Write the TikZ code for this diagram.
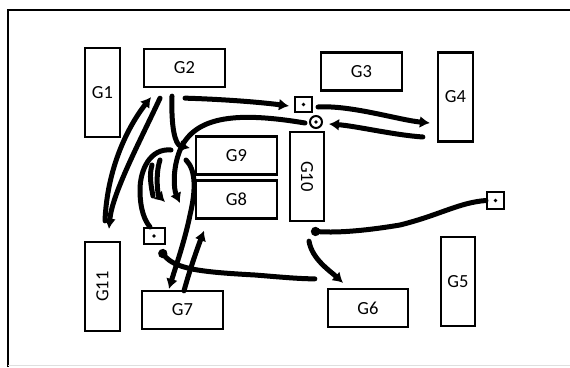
\documentclass[tikz,border=0pt]{standalone}
\usepackage{fontspec}
\setmainfont{Carlito}
\usetikzlibrary{arrows.meta}

\begin{document}
\begin{tikzpicture}[
    x=1pt, y=-1pt,
    every node/.style={font=\fontsize{18.5}{20}\selectfont},
    wide/.style={
      draw, line width=2.3pt, inner sep=0pt,
      minimum width=81pt, minimum height=38pt
    },
    tall/.style={
      draw, line width=2.3pt, inner sep=0pt,
      minimum width=35pt, minimum height=89pt
    },
    marker/.style={draw, line width=2pt, inner sep=0pt},
    stroke/.style={line width=5pt, line cap=round, line join=round},
    arrow/.style={stroke, -{Latex[length=10pt,width=12pt]}},
    blob/.style={stroke, {Circle[length=9pt]}-}
  ]
    \useasboundingbox (0,0) rectangle (570,367);

    % frame
    \draw[line width=2.6pt] (8,367) -- (8,10) -- (570,10);
    \draw[gray!25, line width=1pt] (8,365) -- (570,365);

    % boxes
    \node[tall] (g1)  at (102.5,92.5) {G1};
    \node[wide] (g2)  at (184.5,68)   {G2};
    \node[wide] (g3)  at (361.5,71.5) {G3};
    \node[tall] (g4)  at (455.5,97)   {G4};
    \node[wide] (g9)  at (236.5,155.5) {G9};
    \node[wide] (g8)  at (236.5,199.5) {G8};
    \node[tall, minimum width=34pt] (g10) at (307,176.5) {\rotatebox{-90}{G10}};
    \node[tall] (g11) at (102.5,286.5) {\rotatebox{90}{G11}};
    \node[wide] (g7)  at (182.5,310)  {G7};
    \node[wide, minimum width=80pt] (g6) at (368,308) {G6};
    \node[tall, minimum width=34pt] (g5) at (458,281.5) {G5};

    % small markers
    \node[marker, minimum width=17pt, minimum height=15pt] (sqt) at (303.5,104.5) {};
    \node[marker, circle, minimum size=12pt] (circ) at (316,122) {};
    \node[marker, minimum width=17pt, minimum height=17pt] (sqr) at (495.5,200.5) {};
    \node[marker, minimum width=21pt, minimum height=16pt] (sql) at (154,236) {};
    \foreach \m in {sqt,circ,sqr,sql}
      \fill (\m.center) circle (1.8pt);

    % free ends
    \coordinate (tipA)  at (180,203);
    \coordinate (tipB0) at (160,160);
    \coordinate (tipB)  at (165,202);
    \coordinate (lineA) at (152,165);
    \coordinate (lineB) at (153,196);
    \coordinate (hookA) at (186,160);
    \coordinate (hookB) at (171,150);

    % strokes
    \draw[arrow] ([shift={(2.5,-20)}]g11.north) .. controls +(2,-50) and +(-25,32) .. ([shift={(-33.5,9)}]g2.south);
    \draw[arrow] ([shift={(-24.5,10)}]g2.south) .. controls +(-20,43) and +(3,-35) .. ([shift={(6.5,-12)}]g11.north);
    \draw[arrow] ([shift={(-12.5,8)}]g2.south) .. controls +(-1,30) and +(-15,-3) .. ([shift={(-5,-7.5)}]g9.west);
    \draw[arrow] ([shift={(0.5,10)}]g2.south) .. controls +(35,1) and +(-30,-4) .. ([shift={(-5,1.5)}]sqt.west);
    \draw[arrow] ([shift={(5,2.5)}]sqt.east) .. controls +(33,-2) and +(-31,-3) .. ([shift={(-7,26)}]g4.west);
    \draw[arrow] ([shift={(-14,40)}]g4.west) .. controls +(-29,-2) and +(27,2) .. ([shift={(6,2)}]circ.east);
    \draw[arrow] ([shift={(-4,1)}]circ.west) .. controls +(-66,-11) and +(15,-35) .. (180,150)
      .. controls +(-8,20) and +(-6,-13) .. (tipA);
    \draw[arrow] (tipB0) .. controls +(-5,15) and +(-7,-7) .. (tipB);
    \draw[stroke] (lineA) .. controls +(-3,10) and +(-2,-10) .. (lineB);
    \draw[arrow] (hookA) .. controls +(10,10) and +(6,-25) .. (190,215)
      .. controls +(-5,25) and +(6,-20) .. ([shift={(-13.5,-1)}]g7.north);
    \draw[arrow] ([shift={(1.5,1)}]g7.north) .. controls +(6,-22) and +(-6,16) .. ([shift={(-32.5,11)}]g8.south);
    \draw[stroke] (hookB) .. controls +(-21,-2) and +(0,-20) .. (140,190)
      .. controls +(0,20) and +(-5,-6) .. ([shift={(-4,0)}]sql.north);
    \draw[blob] ([shift={(6,5)}]sql.south) .. controls +(15,19) and +(-55,-3) .. (255,275)
      .. controls +(25,2) and +(-16,0) .. ([shift={(-12,-9)}]g6.north west);
    \draw[blob] ([shift={(4,9)}]g10.south) .. controls +(29,2) and +(-30,5) .. (400,225)
      .. controls +(40,-10) and +(-27,2) .. (sqr.west);
    \draw[arrow] ([shift={(2,19)}]g10.south) .. controls +(3,18) and +(-13,-12) .. ([shift={(-25,-5)}]g6.north);

  \end{tikzpicture}
\end{document}
